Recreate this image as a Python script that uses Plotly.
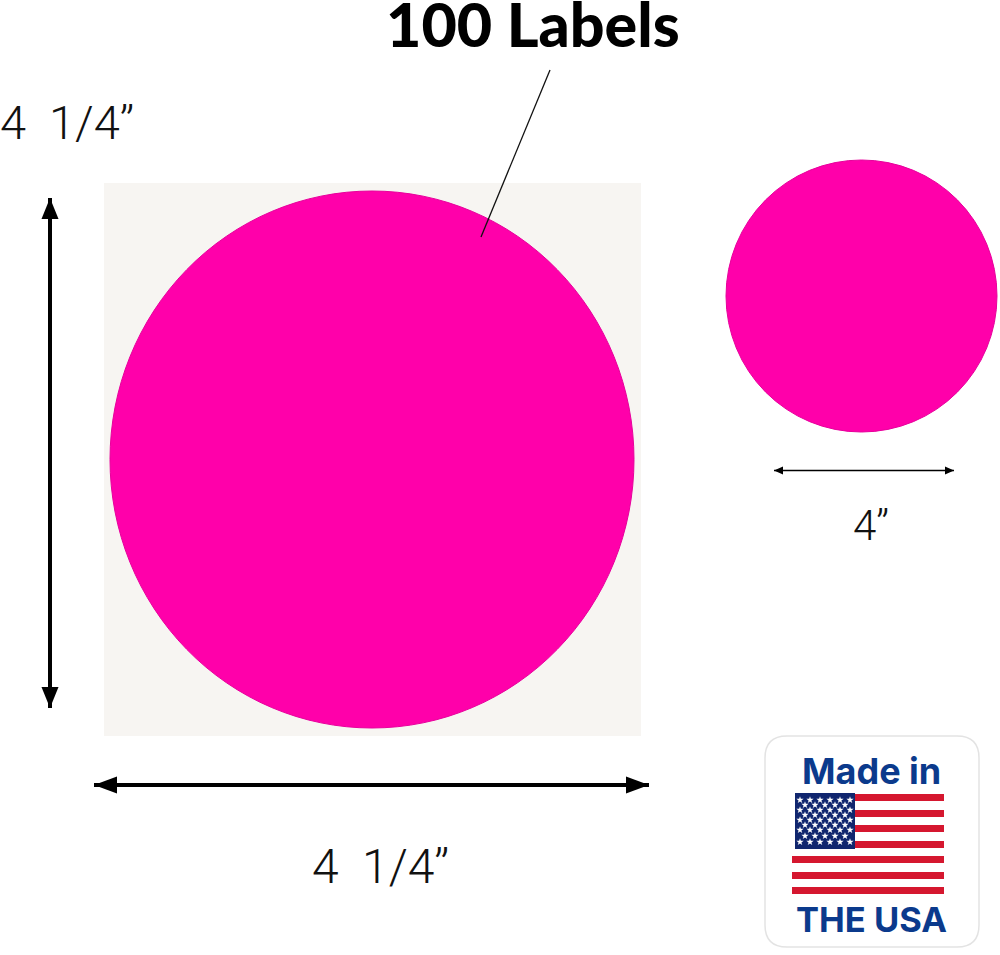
import plotly.graph_objects as go

PINK = "#ff00aa"
NAVY = "#0b3a8c"
RED = "#d5172f"

# (x0, y0, x1, y1) of the drawn parts, in picture pixels
backing_square = [104, 183, 641, 736]
large_circle = [110, 191, 634, 728]
small_circle = [726, 160, 997, 432]
badge_box = [765, 736, 979, 947]
canton_box = [795, 793, 855, 849]
leader_line = [550, 70, 481, 237]

# (x0, y0, x1, y1, head length, half head width, line width)
arrows = [
    [50, 198, 50, 708, 21, 8.5, 4],
    [94, 785, 649, 785, 23, 8.5, 4],
    [774, 470.5, 954, 470.5, 9, 4, 1.6],
]

# stripes: left, right, top, bottom
stripes = [
    [855, 944, 794, 801],
    [855, 944, 810, 817],
    [855, 944, 825, 832],
    [855, 944, 841, 848],
    [792, 944, 856, 863],
    [792, 944, 872, 879],
    [792, 944, 887, 894],
]

star_rows_y = [800, 805, 810, 815, 820, 825, 830, 836, 842]
star_long_x = [800, 810, 820, 830, 840, 850]
star_short_x = [805, 815, 825, 835, 845]

labels = [
    ["100 Labels", 533, 23, 61, "Lato", "#000000", 900],
    ["4\u00a0\u00a01/4\u2019\u2019", 66.5, 122, 47, "Roboto", "#111111", 300],
    ["4\u00a0\u00a01/4\u2019\u2019", 380, 866, 48, "Roboto", "#111111", 300],
    ["4\u2019\u2019", 871, 525, 42, "Roboto", "#111111", 300],
    ["Made in", 871, 771, 36, "Inter", NAVY, 700],
    ["THE USA", 871, 919, 34.5, "Inter", NAVY, 700],
]


def rounded(box, r):
    x0, y0, x1, y1 = box
    return (
        f"M{x0+r},{y0} L{x1-r},{y0} Q{x1},{y0} {x1},{y0+r} L{x1},{y1-r} "
        f"Q{x1},{y1} {x1-r},{y1} L{x0+r},{y1} Q{x0},{y1} {x0},{y1-r} "
        f"L{x0},{y0+r} Q{x0},{y0} {x0+r},{y0} Z"
    )


shapes = [
    dict(type="rect", x0=backing_square[0], y0=backing_square[1], x1=backing_square[2], y1=backing_square[3],
         fillcolor="#f7f5f2", line_width=0, layer="below"),
    dict(type="circle", x0=large_circle[0], y0=large_circle[1], x1=large_circle[2], y1=large_circle[3],
         fillcolor=PINK, line=dict(color="#e8009c", width=1), layer="below"),
    dict(type="circle", x0=small_circle[0], y0=small_circle[1], x1=small_circle[2], y1=small_circle[3],
         fillcolor=PINK, line=dict(color="#e8009c", width=1), layer="below"),
    dict(type="line", x0=leader_line[0], y0=leader_line[1], x1=leader_line[2], y1=leader_line[3],
         line=dict(color="#111111", width=1.3), layer="below"),
    dict(type="path", path=rounded(badge_box, 22), fillcolor="#ffffff",
         line=dict(color="#e3e3e3", width=1.5), layer="below"),
]

for s in stripes:
    shapes.append(dict(type="rect", x0=s[0], x1=s[1], y0=s[2], y1=s[3], fillcolor=RED, line_width=0, layer="below"))
shapes.append(dict(type="rect", x0=canton_box[0], y0=canton_box[1], x1=canton_box[2], y1=canton_box[3],
                   fillcolor="#10266e", line_width=0, layer="below"))

for x0, y0, x1, y1, hl, hw, lw in arrows:
    shapes.append(dict(type="line", x0=x0, y0=y0, x1=x1, y1=y1, line=dict(color="#000000", width=lw), layer="below"))
    if x0 == x1:
        heads = [f"M{x0},{y0} L{x0-hw},{y0+hl} L{x0+hw},{y0+hl} Z", f"M{x1},{y1} L{x1-hw},{y1-hl} L{x1+hw},{y1-hl} Z"]
    else:
        heads = [f"M{x0},{y0} L{x0+hl},{y0-hw} L{x0+hl},{y0+hw} Z", f"M{x1},{y1} L{x1-hl},{y1-hw} L{x1-hl},{y1+hw} Z"]
    for h in heads:
        shapes.append(dict(type="path", path=h, fillcolor="#000000", line_width=0, layer="below"))

star_x, star_y = [], []
for i, y in enumerate(star_rows_y):
    row = star_long_x if i % 2 == 0 else star_short_x
    star_x += row
    star_y += [y] * len(row)

fig = go.Figure(go.Scatter(x=star_x, y=star_y, mode="markers", hoverinfo="skip",
                           marker=dict(symbol="star", size=5.5, color="#ffffff", line_width=0)))

annotations = [
    dict(text=t, x=x, y=y, xref="x", yref="y", showarrow=False, xanchor="center", yanchor="middle",
         font=dict(size=fs, family=fam, color=col, weight=w))
    for t, x, y, fs, fam, col, w in labels
]

fig.update_layout(
    width=1000, height=955, margin=dict(l=0, r=0, t=0, b=0),
    paper_bgcolor="#ffffff", plot_bgcolor="#ffffff", showlegend=False,
    xaxis=dict(range=[0, 1000], visible=False, fixedrange=True),
    yaxis=dict(range=[955, 0], visible=False, fixedrange=True),
    shapes=shapes, annotations=annotations,
)
fig.write_html("out.html", config=dict(displayModeBar=False),
               post_script="document.body.style.margin='0';")
